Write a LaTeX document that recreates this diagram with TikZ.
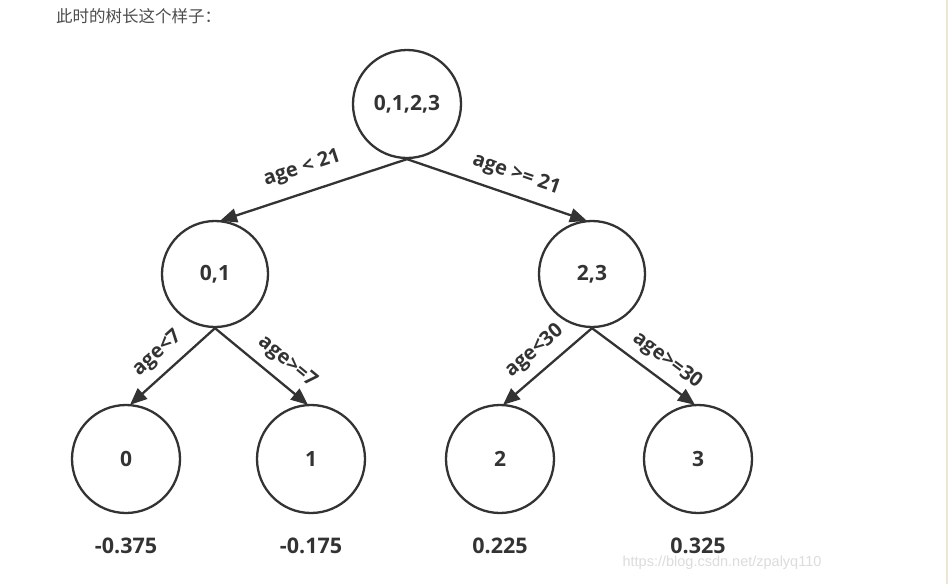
\documentclass[tikz,border=0pt]{standalone}
\usepackage{fontspec}
\setmainfont{Open Sans}
\newfontfamily\cjkfont{Noto Sans CJK SC}
\newfontfamily\wmfont{Liberation Sans}
\usetikzlibrary{arrows.meta}
\definecolor{ink}{HTML}{333333}
\definecolor{titlegray}{HTML}{4D4D4D}
\definecolor{wm}{HTML}{DCDCDC}
\definecolor{edgebar}{HTML}{EDE6D3}
\begin{document}
\begin{tikzpicture}[x=1pt,y=-1pt,
  treenode/.style={circle,draw=ink,line width=2.3pt,minimum size=106pt,inner sep=0pt,
    text=ink,font=\fontsize{21}{23}\selectfont\bfseries},
  conn/.style={draw=ink,line width=2.3pt,-{Triangle[length=17pt,width=14pt]}},
  elabel/.style={text=ink,font=\fontsize{20}{22}\selectfont\bfseries,sloped,above,inner sep=4pt},
  leafval/.style={text=ink,font=\fontsize{21.5}{23}\selectfont\bfseries}]
\fill[white] (0,0) rectangle (948,584);
\useasboundingbox (0,0) rectangle (948,584);
\fill[edgebar] (945.5,0) rectangle (948,584);
\node[anchor=west,text=titlegray,font=\cjkfont\fontsize{16.5}{18}\selectfont,inner sep=0pt] (title) at (56,16) {此时的树长这个样子：};
\node[treenode,minimum size=108pt] (root) at (407,104) {0,1,2,3};
\node[treenode] (n01) at (215,274) {0,1};
\node[treenode] (n23) at (592,274) {2,3};
\node[treenode,minimum size=108pt] (l0) at (126,459) {0};
\node[treenode,minimum size=108pt] (l1) at (311,459) {1};
\node[treenode,minimum size=108pt] (l2) at (500,459) {2};
\node[treenode,minimum size=108pt] (l3) at (698,459) {3};
\node[leafval] (v0) at (126,546) {-0.375};
\node[leafval] (v1) at (311,546) {-0.175};
\node[leafval] (v2) at (500,546) {0.225};
\node[leafval] (v3) at (698,546) {0.325};
\draw[conn] (root.south) -- node[elabel,pos=0.52,inner sep=13pt] {age < 21} ([xshift=5pt,yshift=-1pt]n01.north);
\draw[conn] (root.south) -- node[elabel,pos=0.57,inner sep=10pt] {age >= 21} ([xshift=-5pt,yshift=-1pt]n23.north);
\draw[conn] (n01.south) -- node[elabel,pos=0.52,inner sep=9pt] {age<7} ([xshift=4pt,yshift=-1pt]l0.north);
\draw[conn] (n01.south) -- node[elabel,pos=0.64,inner sep=9pt] {age>=7} ([xshift=-3pt,yshift=-1pt]l1.north);
\draw[conn] (n23.south) -- node[elabel,pos=0.5,inner sep=9pt] {age<30} ([xshift=3pt,yshift=-1pt]l2.north);
\draw[conn] (n23.south) -- node[elabel,pos=0.62,inner sep=8pt] {age>=30} ([xshift=-3pt,yshift=-1pt]l3.north);
\node[text=wm,font=\wmfont\fontsize{14.5}{16}\selectfont] (watermark) at (722,563) {https://blog.csdn.net/zpalyq110};
\end{tikzpicture}
\end{document}
